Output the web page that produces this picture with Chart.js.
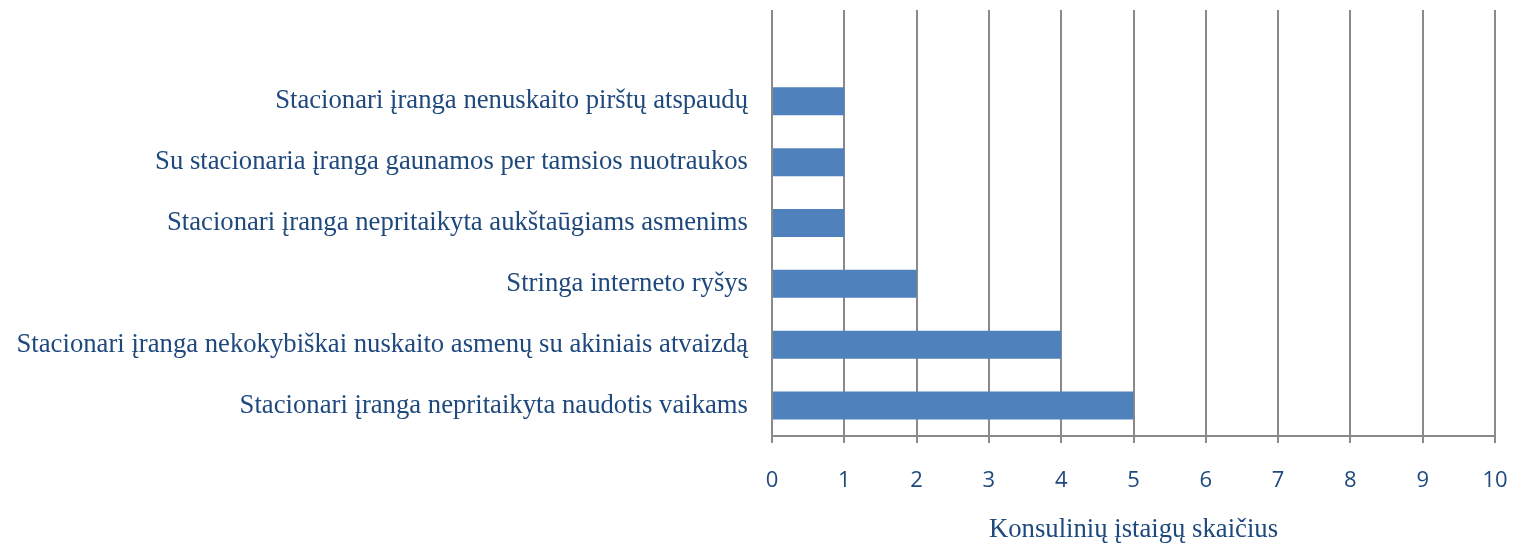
<!DOCTYPE html>
<html>
<head>
<meta charset="utf-8">
<script src="https://cdn.jsdelivr.net/npm/chart.js@4.4.0/dist/chart.umd.min.js"></script>
<style>
    html, body { margin: 0; padding: 0; background: #fff; }
    #wrap { width: 1514px; height: 546px; }
</style>
</head>
<body>
<div id="wrap"><canvas id="chart"></canvas></div>
<script>
// Categories top to bottom (top slot is empty in the original)
const categories = [
    "",
    "Stacionari įranga nenuskaito pirštų atspaudų",
    "Su stacionaria įranga gaunamos per tamsios nuotraukos",
    "Stacionari įranga nepritaikyta aukštaūgiams asmenims",
    "Stringa interneto ryšys",
    "Stacionari įranga nekokybiškai nuskaito asmenų su akiniais atvaizdą",
    "Stacionari įranga nepritaikyta naudotis vaikams",
];
const counts = [null, 1, 1, 1, 2, 4, 5];
const xTicks = [0, 1, 2, 3, 4, 5, 6, 7, 8, 9, 10];
const axisTitle = "Konsulinių įstaigų skaičius";

const textBlue = "#1F497D";
const gridGray = "#8a8a8a";

const ctx = document.getElementById("chart").getContext("2d");
new Chart(ctx, {
    type: "bar",
    data: {
        labels: categories,
        datasets: [
            {
                data: counts,
                backgroundColor: "#4F81BD",
                borderWidth: 0,
                categoryPercentage: 1,
                barPercentage: 0.46,
            },
        ],
    },
    options: {
        indexAxis: "y",
        responsive: true,
        maintainAspectRatio: false,
        animation: false,
        layout: {
            padding: { top: 10, right: 19, left: 0, bottom: 0 },
        },
        plugins: {
            legend: { display: false },
            tooltip: { enabled: false },
        },
        scales: {
            x: {
                min: xTicks[0],
                max: xTicks[xTicks.length - 1],
                afterBuildTicks: (scale) => {
                    scale.ticks = xTicks.map((v) => ({ value: v }));
                },
                // fixed axis box so the plot ends where the original does
                afterFit: (scale) => {
                    scale.height = 110;
                    scale.paddingLeft = 0;
                    scale.paddingRight = 0;
                },
                grid: {
                    color: gridGray,
                    lineWidth: 2,
                    tickLength: 7,
                    drawTicks: true,
                },
                border: { color: gridGray, width: 2 },
                ticks: {
                    color: textBlue,
                    font: { family: "Open Sans", size: 22 },
                    padding: 25,
                },
                title: {
                    display: true,
                    text: axisTitle,
                    color: textBlue,
                    font: { family: "Liberation Serif", size: 26.7 },
                    padding: { top: 10, bottom: 0 },
                },
            },
            y: {
                grid: { display: false },
                border: { display: false },
                afterFit: (scale) => {
                    scale.width = 772;
                    scale.paddingTop = 0;
                    scale.paddingBottom = 0;
                },
                ticks: {
                    color: textBlue,
                    font: { family: "Liberation Serif", size: 26.7 },
                    padding: 16,
                    autoSkip: false,
                },
            },
        },
    },
});
</script>
</body>
</html>
